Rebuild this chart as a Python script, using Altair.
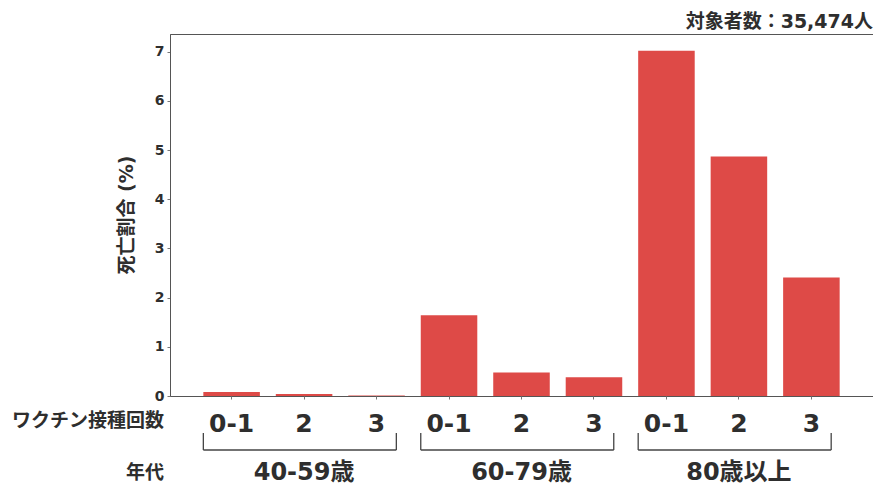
import altair as alt
import pandas as pd

# ---- data ----
age_groups = ["40-59歳", "60-79歳", "80歳以上"]
doses = ["0-1", "2", "3"]
death_pct = [0.08, 0.04, 0.01, 1.64, 0.48, 0.38, 7.02, 4.87, 2.41]
y_ticks = [0, 1, 2, 3, 4, 5, 6, 7]
y_title = "死亡割合 (%)"
dose_axis_label = "ワクチン接種回数"
age_axis_label = "年代"
subjects_note = "対象者数：35,474人"

keys = [f"{a}|{d}" for a in age_groups for d in doses]
bars = pd.DataFrame({"key": keys, "pct": death_pct})

brackets = pd.DataFrame({
    "start": [f"{a}|{doses[0]}" for a in age_groups],
    "end": [f"{a}|{doses[-1]}" for a in age_groups],
    "mid": [f"{a}|{doses[1]}" for a in age_groups],
    "age": age_groups,
})

W, H = 703, 362
LATIN = "DejaVu Sans, Noto Sans CJK JP"
CJK = "Noto Sans CJK JP"
INK = "#2e2e2e"
BAR = "#de4a47"

xscale = alt.Scale(domain=keys, paddingInner=0.22, paddingOuter=0.46)

bar_layer = alt.Chart(bars).mark_bar(color=BAR).encode(
    x=alt.X("key:N", scale=xscale,
            axis=alt.Axis(title=None, labelExpr="split(datum.value, '|')[1]",
                          labelAngle=0, labelFontSize=25, labelFont=LATIN,
                          labelFontWeight="bold", labelColor=INK,
                          labelPadding=12, tickSize=3, tickColor="#777",
                          domain=False)),
    y=alt.Y("pct:Q", scale=alt.Scale(domain=[0, 7.36], nice=False),
            axis=alt.Axis(title=None, values=y_ticks, labelFontSize=14,
                          labelFont=LATIN, labelFontWeight="bold",
                          labelColor=INK, tickSize=3, tickColor="#777",
                          domainColor="#555", labelPadding=3, grid=False)),
)

hline = alt.Chart(brackets).mark_rule(color="#444", strokeWidth=1.3).encode(
    x=alt.X("start:N", scale=xscale, bandPosition=0),
    x2=alt.X2("end:N", bandPosition=0.85),
    y=alt.value(416),
)
lend = alt.Chart(brackets).mark_rule(color="#444", strokeWidth=1.3).encode(
    x=alt.X("start:N", scale=xscale, bandPosition=0),
    y=alt.value(399), y2=alt.value(416),
)
rend = alt.Chart(brackets).mark_rule(color="#444", strokeWidth=1.3).encode(
    x=alt.X("end:N", scale=xscale, bandPosition=0.85),
    y=alt.value(399), y2=alt.value(416),
)
age_text = alt.Chart(brackets).mark_text(
    font=LATIN, fontSize=24, fontWeight="bold", color=INK, baseline="middle"
).encode(
    x=alt.X("mid:N", scale=xscale),
    y=alt.value(439),
    text="age:N",
)

def label(txt, x, y, size, align="right", angle=0, font=CJK):
    return alt.Chart(alt.Data(values=[{"t": txt}])).mark_text(
        font=font, fontSize=size, fontWeight="bold", color=INK,
        align=align, baseline="middle", angle=angle
    ).encode(x=alt.value(x), y=alt.value(y), text="t:N")

chart = alt.layer(
    bar_layer, hline, lend, rend, age_text,
    label(dose_axis_label, -6, 387, 19),
    label(age_axis_label, -6, 439, 19),
    label(y_title, -43, 181, 19, align="center", angle=270, font=LATIN),
    label(subjects_note, 703, -12, 19, font=LATIN),
).properties(
    width=W, height=H,
    autosize=alt.AutoSizeParams(type="none"),
    padding={"left": 162, "top": 26, "right": 0, "bottom": 91},
    background="white",
).configure_view(stroke="#555", strokeWidth=1)

chart.save("out.html", embed_options={"renderer": "svg", "actions": False})
